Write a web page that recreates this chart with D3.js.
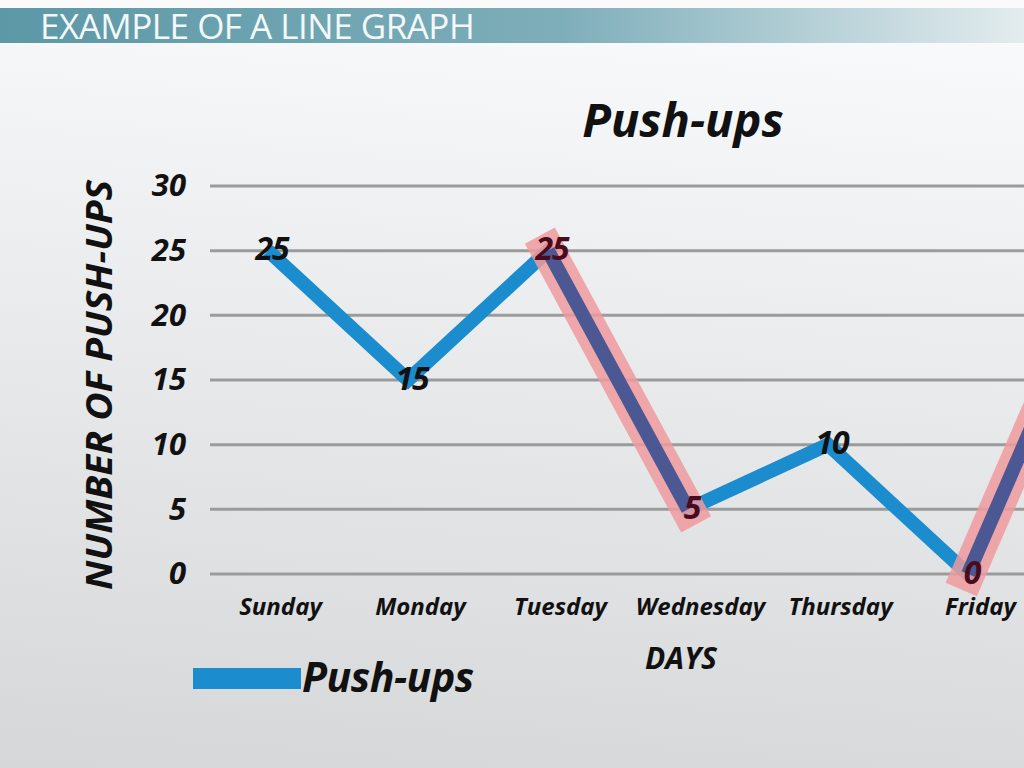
<!DOCTYPE html>
<html>
<head>
<meta charset="utf-8">
<script src="https://cdn.jsdelivr.net/npm/d3@7"></script>
<style>
  body { margin: 0; background: #fff; }
  svg text { font-family: "Open Sans", "Noto Sans", sans-serif; }
</style>
</head>
<body>
<div id="chart-area"></div>
<script>
// Chart data
const days = ["Sunday", "Monday", "Tuesday", "Wednesday", "Thursday", "Friday", "Saturday"];
const pushups = [25, 15, 25, 5, 10, 0, 25];
const yTicks = [0, 5, 10, 15, 20, 25, 30];
// segments drawn with the red highlight (index of start point)
const highlighted = [2, 5];

const W = 1024, H = 768;
const svg = d3.select("#chart-area").append("svg")
    .attr("width", W).attr("height", H);

// background gradient
const defs = svg.append("defs");
const bg = defs.append("linearGradient").attr("id", "bg")
    .attr("x1", 0.2).attr("y1", 0).attr("x2", 0.1).attr("y2", 1);
bg.append("stop").attr("offset", 0).attr("stop-color", "#f8f9fa");
bg.append("stop").attr("offset", 1).attr("stop-color", "#d5d7d9");
svg.append("rect").attr("width", W).attr("height", H).attr("fill", "url(#bg)");

const hb = defs.append("linearGradient").attr("id", "hb")
    .attr("x1", 0).attr("y1", 0).attr("x2", 1).attr("y2", 0);
hb.append("stop").attr("offset", 0).attr("stop-color", "#5c98a6");
hb.append("stop").attr("offset", 0.55).attr("stop-color", "#7eaeba");
hb.append("stop").attr("offset", 1).attr("stop-color", "#e3ecee");

// header band
svg.append("rect").attr("width", W).attr("height", 8).attr("fill", "#fafafa");
svg.append("rect").attr("y", 8).attr("width", W).attr("height", 35).attr("fill", "url(#hb)");
svg.append("text")
    .attr("x", 40).attr("y", 39)
    .attr("fill", "#f4f8f9")
    .style("font-size", "35px")
    .style("letter-spacing", "-0.5px")
    .text("EXAMPLE OF A LINE GRAPH");

// Scales
const x = d3.scalePoint().domain(days).range([268, 1108]);
const y = d3.scaleLinear().domain([0, 30]).range([574, 186]);
const visible = d => x(d) < W - 20;

// Gridlines
svg.append("g").selectAll("line")
    .data(yTicks).join("line")
    .attr("x1", 210).attr("x2", W)
    .attr("y1", d => y(d)).attr("y2", d => y(d))
    .attr("stroke", "#9b9b9b").attr("stroke-width", 3);

// Y axis tick labels
const yAxis = svg.append("g")
    .attr("transform", "translate(186,0)")
    .call(d3.axisLeft(y).tickValues(yTicks).tickSize(0).tickPadding(0));
yAxis.select(".domain").remove();
yAxis.selectAll("text")
    .style("font-size", "31px").style("font-weight", "bold").style("font-style", "italic")
    .attr("fill", "#111").attr("font-family", null);

// X axis labels (only the days inside the picture)
const xAxis = svg.append("g")
    .attr("transform", "translate(12,598)")
    .call(d3.axisBottom(x).tickValues(days.filter(visible)).tickSize(0).tickPadding(0));
xAxis.select(".domain").remove();
xAxis.selectAll("text")
    .attr("dy", "0.71em")
    .style("font-size", "24px").style("font-weight", "bold").style("font-style", "italic")
    .attr("fill", "#111").attr("font-family", null);

// Axis titles
svg.append("text")
    .attr("transform", "translate(112,385) rotate(-90)")
    .attr("text-anchor", "middle")
    .attr("textLength", 410).attr("lengthAdjust", "spacingAndGlyphs")
    .style("font-size", "36px").style("font-weight", "bold").style("font-style", "italic")
    .attr("fill", "#111")
    .text("NUMBER OF PUSH-UPS");

svg.append("text")
    .attr("x", 681).attr("y", 669)
    .attr("text-anchor", "middle")
    .style("font-size", "30px").style("font-weight", "bold").style("font-style", "italic")
    .attr("fill", "#111")
    .text("DAYS");

svg.append("text")
    .attr("x", 683).attr("y", 137)
    .attr("text-anchor", "middle")
    .style("font-size", "47px").style("font-weight", "bold").style("font-style", "italic")
    .attr("fill", "#111")
    .text("Push-ups");

// Line
const pts = days.map((d, i) => ({ day: d, v: pushups[i] }));
const line = d3.line().x(d => x(d.day)).y(d => y(d.v));

svg.append("path")
    .datum(pts)
    .attr("d", line)
    .attr("fill", "none")
    .attr("stroke", "#1b8ccd")
    .attr("stroke-width", 14)
    .attr("stroke-linejoin", "miter");

// Highlighted segments
highlighted.forEach(i => {
    const seg = [pts[i], pts[i + 1]];
    svg.append("path").datum(seg).attr("d", line)
        .attr("fill", "none")
        .attr("stroke", "#ee9a9e").attr("stroke-opacity", 0.85)
        .attr("stroke-width", 34).attr("stroke-linecap", "square");
    svg.append("path").datum(seg).attr("d", line)
        .attr("fill", "none")
        .attr("stroke", "#4b5894")
        .attr("stroke-width", 14);
});

// Data labels
const inHl = idx => highlighted.some(i => idx === i || idx === i + 1);
svg.append("g").selectAll("text")
    .data(pts.filter(d => visible(d.day))).join("text")
    .attr("x", d => x(d.day) + 4)
    .attr("y", d => y(d.v))
    .attr("dy", "0.3em")
    .attr("text-anchor", "middle")
    .style("font-size", "32px").style("font-weight", "bold").style("font-style", "italic")
    .style("letter-spacing", "-1px")
    .attr("fill", (d, i) => inHl(i) ? "#4a0c1c" : "#111")
    .text(d => d.v);

// Legend
svg.append("rect")
    .attr("x", 193).attr("y", 668).attr("width", 108).attr("height", 21)
    .attr("fill", "#1b8ccd");
svg.append("text")
    .attr("x", 302).attr("y", 692)
    .style("font-size", "41px").style("font-weight", "bold").style("font-style", "italic")
    .style("letter-spacing", "-0.5px")
    .attr("fill", "#111")
    .text("Push-ups");
</script>
</body>
</html>
